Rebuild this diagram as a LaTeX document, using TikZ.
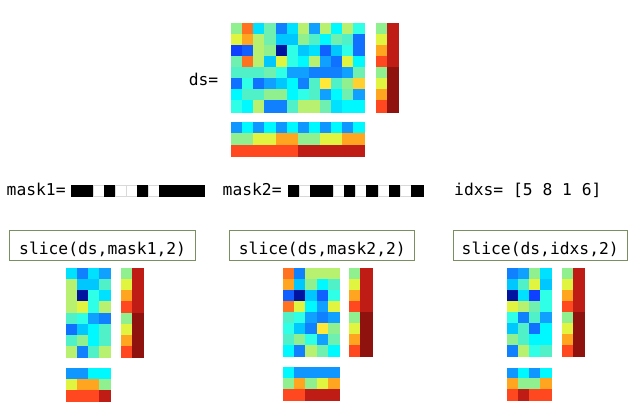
\documentclass[tikz,border=0pt]{standalone}
\usepackage{fontspec}
\setmonofont{DejaVu Sans Mono}
\definecolor{hma}{RGB}{0,20,160}
\definecolor{hmb}{RGB}{16,64,255}
\definecolor{hmc}{RGB}{16,96,255}
\definecolor{hmd}{RGB}{16,112,255}
\definecolor{hme}{RGB}{16,128,255}
\definecolor{hmf}{RGB}{16,160,255}
\definecolor{hmg}{RGB}{0,200,255}
\definecolor{hmh}{RGB}{0,224,255}
\definecolor{hmi}{RGB}{0,248,255}
\definecolor{hmj}{RGB}{48,255,232}
\definecolor{hmk}{RGB}{80,240,200}
\definecolor{hml}{RGB}{112,240,176}
\definecolor{hmm}{RGB}{144,240,144}
\definecolor{hmn}{RGB}{184,240,112}
\definecolor{hmo}{RGB}{224,244,64}
\definecolor{hmv}{RGB}{255,232,56}
\definecolor{hmp}{RGB}{255,208,48}
\definecolor{hmq}{RGB}{255,165,32}
\definecolor{hmr}{RGB}{255,115,32}
\definecolor{hms}{RGB}{255,72,32}
\definecolor{hmt}{RGB}{192,28,22}
\definecolor{hmu}{RGB}{144,18,14}
\definecolor{hmw}{RGB}{16,150,255}
\definecolor{hmK}{RGB}{0,0,0}
\definecolor{hmW}{RGB}{255,255,255}
\colorlet{hmKb}{black}
\colorlet{hmWb}{gray!30}
\definecolor{boxline}{RGB}{122,143,95}
% grid: x0, y0, cell width, cell height, rows
\newcommand\hmgrid[5]{%
  \foreach \rr [count=\jj from 0] in {#5} {%
    \foreach \cc [count=\ii from 0] in \rr {%
      \filldraw[fill=hm\cc, draw=hm\cc, line width=0.3pt]
        ({#1+\ii*#3},{#2+\jj*#4}) rectangle ++(#3,#4);
    }}}
\newcommand\maskbar[4]{% x0, y0, cell width, list
  \foreach \cc [count=\ii from 0] in {#4} {%
    \filldraw[fill=hm\cc, draw=hm\cc b, line width=0.4pt]
      ({#1+\ii*#3},{#2}) rectangle ++(#3,11);
  }}
\tikzset{
  lbl/.style={font=\ttfamily\fontsize{16.3}{18}\selectfont, inner sep=0pt, text=black},
  fbox/.style={draw=boxline, line width=1pt, fill=white, inner sep=0pt,
    minimum width=#1, minimum height=30pt, anchor=north west,
    text height=24pt, text depth=6pt,
    font=\ttfamily\fontsize{16.3}{18}\selectfont}
}
\begin{document}
\begin{tikzpicture}[x=1pt,y=-1pt]
\useasboundingbox (0,0) rectangle (641,419);
% ---------- ds ----------
\node[lbl, anchor=base east] (dslbl) at (218.5,85.7) {ds=};
\hmgrid{231.3}{23.3}{11.1}{11.05}{%
 {m,r,h,l,e,h,n,f,n,i,n,j},
 {o,q,n,l,g,g,m,k,i,l,k,d},
 {b,c,n,m,a,j,g,h,c,g,j,d},
 {l,r,n,g,o,j,i,n,f,d,o,i},
 {k,k,k,l,j,f,f,e,e,e,f,l},
 {d,j,d,f,g,i,e,k,v,k,m,p},
 {i,k,k,m,m,i,j,k,f,i,l,f},
 {j,i,n,e,e,k,n,n,l,h,i,i}}
\hmgrid{375.8}{23.3}{11.0}{11.05}{%
 {m,t},{o,t},{q,t},{s,t},{m,u},{o,u},{q,u},{s,u}}
\hmgrid{231.3}{122.3}{11.1}{11.2}{%
 {w,i,w,i,w,i,w,i,w,i,w,i},
 {m,m,o,o,q,q,m,m,o,o,q,q},
 {s,s,s,s,s,s,t,t,t,t,t,t}}
% ---------- masks ----------
\node[lbl, anchor=base west] (m1lbl) at (6.5,196) {mask1=};
\maskbar{71}{185}{11.08}{K,K,W,K,W,W,K,W,K,K,K,K}
\node[lbl, anchor=base west] (m2lbl) at (222.5,196) {mask2=};
\maskbar{287.7}{185}{11.25}{K,W,K,K,W,K,W,K,W,K,W,K}
\node[lbl, anchor=base west] (idxlbl) at (454,196) {idxs= [5 8 1 6]};
% ---------- boxes ----------
\node[fbox=185.7pt] (b1) at (9.3,230) {slice(ds,mask1,2)};
\node[fbox=185pt] (b2) at (229.3,230) {slice(ds,mask2,2)};
\node[fbox=174pt] (b3) at (452.7,230) {slice(ds,idxs,2)};
% ---------- output 1 ----------
\hmgrid{65.7}{268.3}{11.08}{11.1}{%
 {h,e,h,f},{n,g,g,k},{n,a,j,h},{n,o,j,n},
 {k,j,f,e},{d,g,i,k},{k,m,i,k},{n,e,k,n}}
\hmgrid{121}{268.3}{11.15}{11.1}{%
 {m,t},{o,t},{q,t},{s,t},{m,u},{o,u},{q,u},{s,u}}
\hmgrid{65.7}{368.3}{11.08}{10.9}{%
 {w,w,i,i},{o,q,q,m},{s,s,s,t}}
% ---------- output 2 ----------
\hmgrid{283.3}{267.7}{11.14}{11.05}{%
 {r,e,n,n,n},{q,g,m,i,k},{c,a,g,c,j},{r,o,i,f,o},
 {k,j,f,e,f},{j,g,e,v,m},{k,m,j,f,l},{i,e,n,l,i}}
\hmgrid{349.3}{267.7}{11.2}{11.05}{%
 {m,t},{o,t},{q,t},{s,t},{m,u},{o,u},{q,u},{s,u}}
\hmgrid{283.3}{366.7}{11.14}{11.1}{%
 {i,w,w,w,w},{m,q,m,o,q},{s,s,t,t,t}}
% ---------- output 3 ----------
\hmgrid{506.7}{267.7}{11.08}{11.1}{%
 {e,f,m,h},{g,k,o,g},{a,h,b,j},{o,n,l,j},
 {j,e,k,f},{g,k,d,i},{m,k,i,i},{e,n,j,k}}
\hmgrid{562.3}{267.7}{11.0}{11.1}{%
 {m,t},{o,t},{q,t},{s,t},{m,u},{o,u},{q,u},{s,u}}
\hmgrid{506.7}{367.7}{11.08}{10.8}{%
 {w,i,w,i},{q,m,m,q},{s,t,s,s}}
\end{tikzpicture}
\end{document}
